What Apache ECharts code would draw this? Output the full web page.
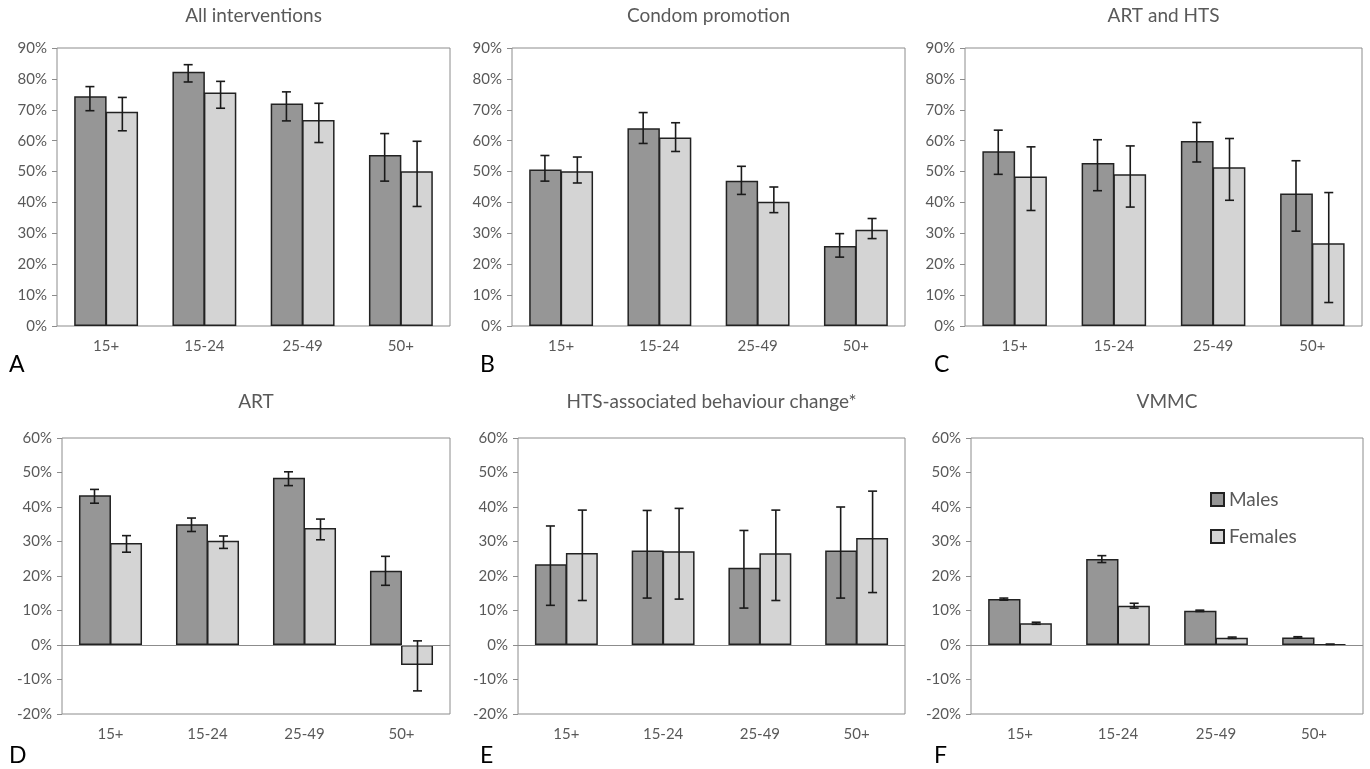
<!DOCTYPE html>
<html>
<head>
<meta charset="utf-8">
<script src="https://cdn.jsdelivr.net/npm/echarts@6/dist/echarts.min.js"></script>
<style>
  html, body { margin: 0; padding: 0; background: #fff; }
  #chart { width: 1370px; height: 769px; }
</style>
</head>
<body>
<div id="chart"></div>
<script>
// categories
const ages = ["15+", "15-24", "25-49", "50+"];

// A - All interventions
const allMale = [74.4, 82.3, 72.0, 55.4];
const allMaleLo = [69.7, 79.0, 66.4, 46.9];
const allMaleHi = [77.5, 84.6, 75.8, 62.3];
const allFemale = [69.4, 75.6, 66.7, 50.1];
const allFemaleLo = [63.2, 70.5, 59.4, 38.7];
const allFemaleHi = [74.0, 79.2, 72.1, 59.8];

// B - Condom promotion
const condomMale = [50.7, 64.0, 47.0, 25.9];
const condomMaleLo = [46.9, 59.1, 42.6, 22.3];
const condomMaleHi = [55.2, 69.1, 51.7, 29.9];
const condomFemale = [50.1, 61.0, 40.2, 31.2];
const condomFemaleLo = [46.3, 56.5, 36.7, 28.3];
const condomFemaleHi = [54.7, 65.8, 45.0, 34.8];

// C - ART and HTS
const artHtsMale = [56.6, 52.8, 59.9, 42.9];
const artHtsMaleLo = [49.1, 43.8, 53.1, 30.7];
const artHtsMaleHi = [63.4, 60.3, 65.9, 53.5];
const artHtsFemale = [48.4, 49.1, 51.4, 26.8];
const artHtsFemaleLo = [37.4, 38.5, 40.7, 7.6];
const artHtsFemaleHi = [58.0, 58.3, 60.7, 43.2];

// D - ART
const artMale = [43.4, 35.0, 48.5, 21.5];
const artMaleLo = [41.1, 32.9, 46.2, 17.3];
const artMaleHi = [45.1, 36.8, 50.2, 25.7];
const artFemale = [29.6, 30.2, 33.9, -5.8];
const artFemaleLo = [26.9, 28.0, 30.5, -13.3];
const artFemaleHi = [31.7, 31.6, 36.5, 1.2];

// E - HTS-associated behaviour change
const htsMale = [23.4, 27.4, 22.4, 27.4];
const htsMaleLo = [11.5, 13.6, 10.7, 13.6];
const htsMaleHi = [34.5, 39.0, 33.2, 40.0];
const htsFemale = [26.7, 27.2, 26.6, 31.0];
const htsFemaleLo = [12.9, 13.3, 12.9, 15.2];
const htsFemaleHi = [39.1, 39.6, 39.1, 44.6];

// F - VMMC
const vmmcMale = [13.3, 24.9, 9.9, 2.2];
const vmmcMaleLo = [13.0, 23.9, 9.7, 2.0];
const vmmcMaleHi = [13.6, 25.9, 10.1, 2.4];
const vmmcFemale = [6.3, 11.4, 2.1, 0.2];
const vmmcFemaleLo = [6.0, 10.7, 1.9, 0.15];
const vmmcFemaleHi = [6.6, 12.1, 2.3, 0.25];

const panels = [
  { title: "All interventions", letter: "A", m: allMale, mLo: allMaleLo, mHi: allMaleHi, f: allFemale, fLo: allFemaleLo, fHi: allFemaleHi,
    grid: { left: 57, top: 48, width: 393, height: 278 }, min: 0, max: 90 },
  { title: "Condom promotion", letter: "B", m: condomMale, mLo: condomMaleLo, mHi: condomMaleHi, f: condomFemale, fLo: condomFemaleLo, fHi: condomFemaleHi,
    grid: { left: 512, top: 48, width: 393, height: 278 }, min: 0, max: 90 },
  { title: "ART and HTS", letter: "C", m: artHtsMale, mLo: artHtsMaleLo, mHi: artHtsMaleHi, f: artHtsFemale, fLo: artHtsFemaleLo, fHi: artHtsFemaleHi,
    grid: { left: 965, top: 48, width: 397, height: 278 }, min: 0, max: 90 },
  { title: "ART", letter: "D", m: artMale, mLo: artMaleLo, mHi: artMaleHi, f: artFemale, fLo: artFemaleLo, fHi: artFemaleHi,
    grid: { left: 62, top: 438, width: 388, height: 276 }, min: -20, max: 60 },
  { title: "HTS-associated behaviour change*", letter: "E", m: htsMale, mLo: htsMaleLo, mHi: htsMaleHi, f: htsFemale, fLo: htsFemaleLo, fHi: htsFemaleHi,
    grid: { left: 518, top: 438, width: 387, height: 276 }, min: -20, max: 60 },
  { title: "VMMC", letter: "F", m: vmmcMale, mLo: vmmcMaleLo, mHi: vmmcMaleHi, f: vmmcFemale, fLo: vmmcFemaleLo, fHi: vmmcFemaleHi,
    grid: { left: 971, top: 438, width: 392, height: 276 }, min: -20, max: 60 },
];

const FONT = "Lato, 'Open Sans', sans-serif";
const BORDER = "#8c8c8c";
const LABEL = "#595959";
const BAR_W = 0.33;

function errorRender(side) {
  return function (params, api) {
    const idx = api.value(0);
    const lo = api.coord([idx, api.value(1)]);
    const hi = api.coord([idx, api.value(2)]);
    const band = api.size([1, 0])[0];
    const cx = lo[0] + side * band * BAR_W / 2;
    const hw = 4.5;
    const st = { stroke: "#1a1a1a", lineWidth: 1.6 };
    return {
      type: "group",
      children: [
        { type: "line", shape: { x1: cx, y1: lo[1], x2: cx, y2: hi[1] }, style: st },
        { type: "line", shape: { x1: cx - hw, y1: lo[1], x2: cx + hw, y2: lo[1] }, style: st },
        { type: "line", shape: { x1: cx - hw, y1: hi[1], x2: cx + hw, y2: hi[1] }, style: st },
      ],
    };
  };
}

let grids = [], xAxes = [], yAxes = [], series = [], graphics = [];

panels.forEach((p, i) => {
  grids.push(Object.assign({ show: true, borderColor: BORDER, borderWidth: 1, backgroundColor: "#fff" }, p.grid));
  xAxes.push({
    type: "category",
    gridIndex: i,
    data: ages,
    axisLine: { show: false, onZero: false },
    axisTick: { show: false },
    axisLabel: { color: LABEL, fontSize: 15, fontFamily: FONT, margin: 13 },
  });
  yAxes.push({
    type: "value",
    gridIndex: i,
    min: p.min,
    max: p.max,
    interval: 10,
    axisLine: { show: false },
    axisTick: { show: true, length: 5, lineStyle: { color: BORDER } },
    splitLine: { show: false },
    axisLabel: { color: LABEL, fontSize: 15, fontFamily: FONT, margin: 10, formatter: "{value}%" },
  });

  const maleBar = {
    name: "Males",
    type: "bar",
    xAxisIndex: i,
    yAxisIndex: i,
    barWidth: "33%",
    barGap: "-3%",
    data: p.m,
    itemStyle: { color: "#969696", borderColor: "#222", borderWidth: 1.5 },
  };
  if (p.min < 0) {
    maleBar.markLine = {
      silent: true,
      symbol: "none",
      label: { show: false },
      lineStyle: { color: BORDER, width: 1, type: "solid" },
      data: [{ yAxis: 0 }],
    };
  }
  series.push(maleBar);
  series.push({
    name: "Females",
    type: "bar",
    xAxisIndex: i,
    yAxisIndex: i,
    barWidth: "33%",
    barGap: "-3%",
    data: p.f,
    itemStyle: { color: "#d4d4d4", borderColor: "#222", borderWidth: 1.5 },
  });
  series.push({
    type: "custom",
    xAxisIndex: i,
    yAxisIndex: i,
    z: 5,
    renderItem: errorRender(-1),
    encode: { x: 0, y: [1, 2] },
    data: ages.map((a, k) => [k, p.mLo[k], p.mHi[k]]),
  });
  series.push({
    type: "custom",
    xAxisIndex: i,
    yAxisIndex: i,
    z: 5,
    renderItem: errorRender(1),
    encode: { x: 0, y: [1, 2] },
    data: ages.map((a, k) => [k, p.fLo[k], p.fHi[k]]),
  });

  const cx = p.grid.left + p.grid.width / 2;
  const ty = i < 3 ? 16 : 402;
  graphics.push({
    type: "text",
    x: cx,
    y: ty,
    style: { text: p.title, fill: LABEL, font: "19px " + FONT, textAlign: "center", textVerticalAlign: "middle" },
  });
  const lx = [9, 480, 934][i % 3];
  const ly = i < 3 ? 365 : 756;
  graphics.push({
    type: "text",
    x: lx,
    y: ly,
    style: { text: p.letter, fill: "#000", font: "23px " + FONT, textVerticalAlign: "middle" },
  });
});

const chart = echarts.init(document.getElementById("chart"));
chart.setOption({
  animation: false,
  backgroundColor: "#fff",
  grid: grids,
  xAxis: xAxes,
  yAxis: yAxes,
  legend: {
    data: ["Males", "Females"],
    orient: "vertical",
    left: 1205,
    top: 485,
    itemWidth: 13,
    itemHeight: 13,
    itemGap: 18,
    icon: "rect",
    textStyle: { color: LABEL, fontSize: 19, fontFamily: FONT },
  },
  graphic: graphics,
  series: series,
});
</script>
</body>
</html>
